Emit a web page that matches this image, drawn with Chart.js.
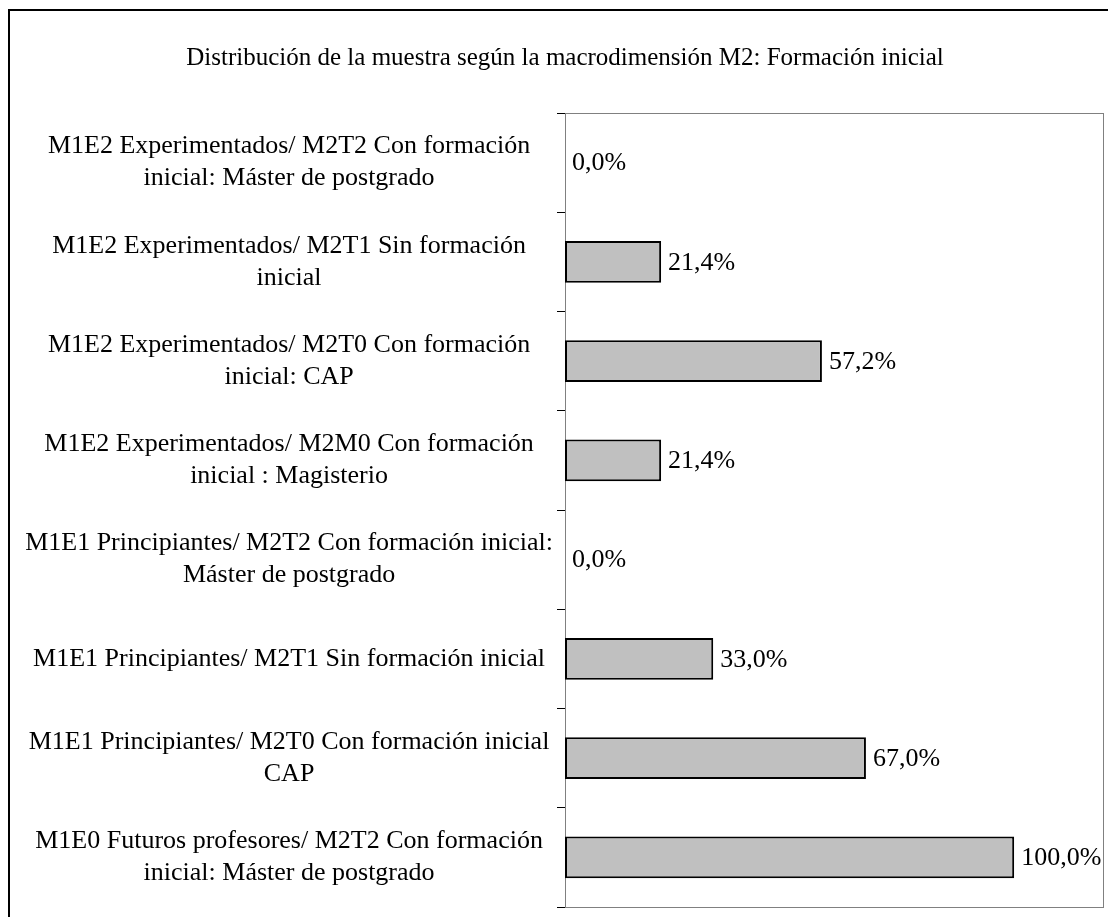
<!DOCTYPE html>
<html>
<head>
<meta charset="utf-8">
<script src="https://cdn.jsdelivr.net/npm/chart.js@4/dist/chart.umd.min.js"></script>
<style>
  html, body { margin: 0; padding: 0; background: #fff; }
  #wrap { width: 1108px; height: 917px; position: relative; }
</style>
</head>
<body>
<div id="wrap"><canvas id="chart"></canvas></div>
<script>
const chartTitle = 'Distribución de la muestra según la macrodimensión M2: Formación inicial';

const categories = [
    ['M1E2 Experimentados/ M2T2 Con formación', 'inicial: Máster de postgrado'],
    ['M1E2 Experimentados/ M2T1 Sin formación', 'inicial'],
    ['M1E2 Experimentados/ M2T0 Con formación', 'inicial: CAP'],
    ['M1E2 Experimentados/ M2M0 Con formación', 'inicial : Magisterio'],
    ['M1E1 Principiantes/ M2T2 Con formación inicial:', 'Máster de postgrado'],
    'M1E1 Principiantes/ M2T1 Sin formación inicial',
    ['M1E1 Principiantes/ M2T0 Con formación inicial', 'CAP'],
    ['M1E0 Futuros profesores/ M2T2 Con formación', 'inicial: Máster de postgrado']
];
const percentages = [0.0, 21.4, 57.2, 21.4, 0.0, 33.0, 67.0, 100.0];

const serif = '"Liberation Serif", "Times New Roman", serif';

// outer frame + grey border round the plot area
const framePlugin = {
    id: 'frame',
    beforeDraw(chart) {
        const ctx = chart.ctx;
        ctx.save();
        ctx.fillStyle = '#fff';
        ctx.fillRect(0, 0, chart.width, chart.height);
        ctx.strokeStyle = '#000';
        ctx.lineWidth = 2;
        ctx.beginPath();
        ctx.moveTo(9, chart.height + 5);
        ctx.lineTo(9, 10);
        ctx.lineTo(chart.width + 5, 10);
        ctx.stroke();
        ctx.restore();
    },
    beforeDatasetsDraw(chart) {
        const a = chart.chartArea;
        const ctx = chart.ctx;
        ctx.save();
        ctx.strokeStyle = '#808080';
        ctx.lineWidth = 1;
        ctx.strokeRect(a.left + 0.5, a.top + 0.5, a.right - a.left - 1, a.bottom - a.top);
        ctx.restore();
    }
};

// percentage text after each bar
const valueLabels = {
    id: 'valueLabels',
    afterDatasetsDraw(chart) {
        const ctx = chart.ctx;
        const meta = chart.getDatasetMeta(0);
        ctx.save();
        ctx.font = '26px ' + serif;
        ctx.fillStyle = '#000';
        ctx.textAlign = 'left';
        ctx.textBaseline = 'middle';
        meta.data.forEach((bar, i) => {
            const txt = percentages[i].toFixed(1).replace('.', ',') + '%';
            ctx.fillText(txt, bar.x + 7, bar.y + 1);
        });
        ctx.restore();
    }
};

new Chart(document.getElementById('chart'), {
    type: 'bar',
    data: {
        labels: categories,
        datasets: [{
            data: percentages,
            backgroundColor: '#c0c0c0',
            borderColor: '#000',
            borderWidth: 2,
            borderSkipped: false,
            categoryPercentage: 1,
            barPercentage: 0.42
        }]
    },
    options: {
        indexAxis: 'y',
        responsive: true,
        maintainAspectRatio: false,
        animation: false,
        layout: { padding: { top: 0, right: 4, bottom: 10, left: 26 } },
        plugins: {
            legend: { display: false },
            tooltip: { enabled: false },
            title: {
                display: true,
                text: chartTitle,
                color: '#000',
                font: { family: serif, size: 25, weight: 'normal', lineHeight: 1.2 },
                padding: { top: 43, bottom: 40 }
            }
        },
        scales: {
            x: {
                display: false,
                min: 0,
                max: 120
            },
            y: {
                afterFit(scale) {
                    scale.width = 539;
                    scale.paddingTop = 0;
                    scale.paddingBottom = 0;
                },
                grid: {
                    drawOnChartArea: false,
                    offset: true,
                    tickLength: 8,
                    color: '#000'
                },
                border: { color: '#000', width: 1 },
                ticks: {
                    color: '#000',
                    crossAlign: 'center',
                    padding: 4,
                    font: { family: serif, size: 26, lineHeight: 1.23 }
                }
            }
        }
    },
    plugins: [framePlugin, valueLabels]
});
</script>
</body>
</html>
